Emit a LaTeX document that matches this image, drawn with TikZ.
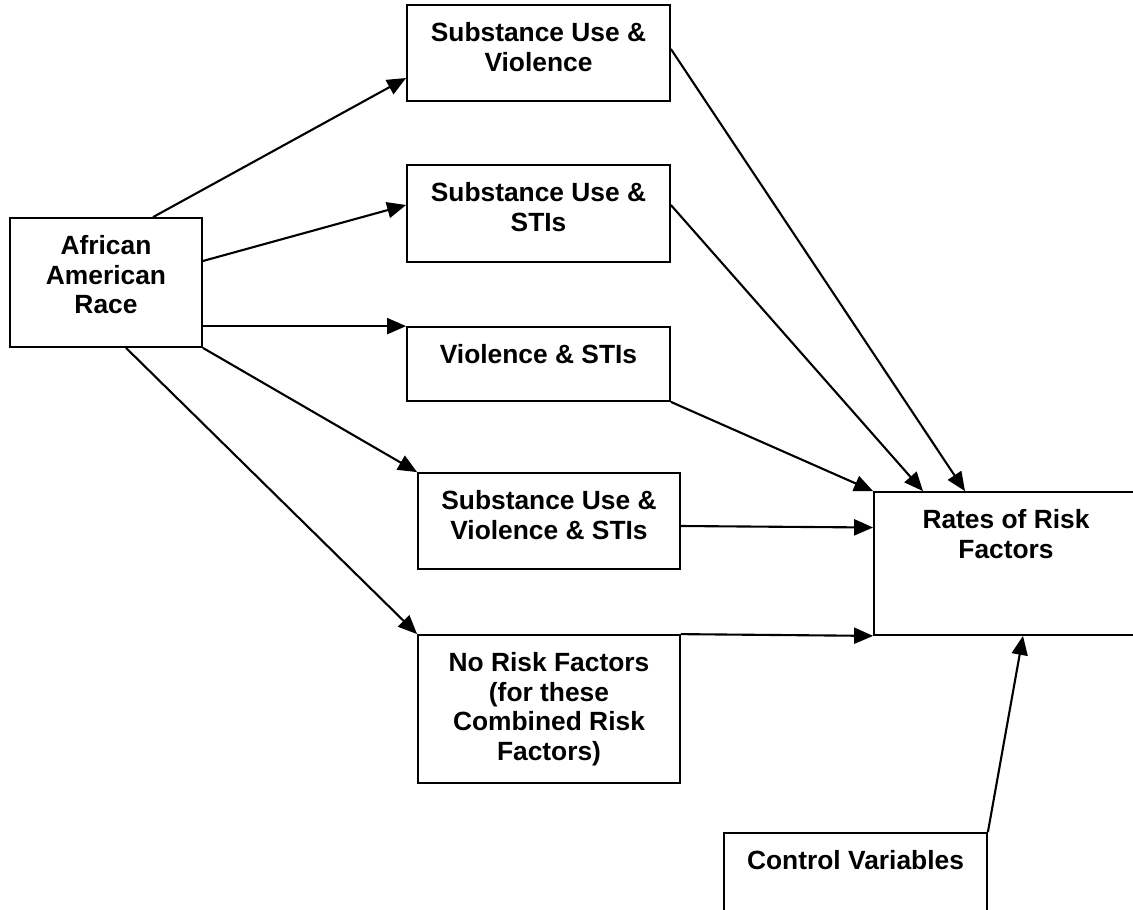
\documentclass[tikz,border=0pt]{standalone}
\usepackage{fontspec}
\setmainfont{Liberation Sans}
\usetikzlibrary{arrows.meta}
\begin{document}
\begin{tikzpicture}[
  box/.style={draw, line width=1pt, minimum width=5.26cm, inner sep=0pt},
  lbl/.style={anchor=north, align=center, inner sep=0pt, yshift=-10pt,
    font={\fontsize{15}{17}\selectfont\bfseries}},
  arr/.style={-{Triangle[length=0.38cm, width=0.32cm]}, line width=1.2pt}]
\useasboundingbox (0,0) rectangle (22.66,-18.18);
\clip (0,0) rectangle (22.66,-18.18);
% boxes
\node[box, minimum width=3.84cm, minimum height=2.58cm] (aa) at (2.12,-5.65) {};
\node[box, minimum height=1.92cm] (suv) at (10.77,-1.06) {};
\node[box, minimum height=1.94cm] (susti) at (10.77,-4.27) {};
\node[box, minimum height=1.48cm] (vs) at (10.77,-7.28) {};
\node[box, minimum width=5.24cm, minimum height=1.92cm] (suvs) at (10.98,-10.42) {};
\node[box, minimum width=5.24cm, minimum height=2.96cm] (nrf) at (10.98,-14.18) {};
\node[box, minimum width=5.28cm, minimum height=2.86cm] (rrf) at (20.12,-11.27) {};
\node[box, minimum height=1.64cm] (ctrl) at (17.11,-17.48) {};
% labels
\node[lbl] (aatxt) at (aa.north) {African\\American\\Race};
\node[lbl] (suvtxt) at (suv.north) {Substance Use \&\\Violence};
\node[lbl] (sustitxt) at (susti.north) {Substance Use \&\\STIs};
\node[lbl] (vstxt) at (vs.north) {Violence \& STIs};
\node[lbl] (suvstxt) at (suvs.north) {Substance Use \&\\Violence \& STIs};
\node[lbl] (nrftxt) at (nrf.north) {No Risk Factors\\(for these\\Combined Risk\\Factors)};
\node[lbl] (rrftxt) at (rrf.north) {Rates of Risk\\Factors};
\node[lbl] (ctrltxt) at (ctrl.north) {Control Variables};
% paths from race
\draw[arr] ([xshift=0.94cm]aa.north) -- ([yshift=-0.5cm]suv.west);
\draw[arr] ([yshift=0.43cm]aa.east) -- ([yshift=0.17cm]susti.west);
\draw[arr] (aa.east |- vs.north west) -- (vs.north west);
\draw[arr] (aa.south east) -- (suvs.north west);
\draw[arr] ([xshift=0.4cm]aa.south) -- (nrf.north west);
% paths to rates
\draw[arr] ([yshift=0.08cm]suv.east) -- ([xshift=-0.82cm]rrf.north);
\draw[arr] ([yshift=0.17cm]susti.east) -- ([xshift=-1.66cm]rrf.north);
\draw[arr] (vs.south east) -- (rrf.north west);
\draw[arr] ([yshift=-0.1cm]suvs.east) -- ([yshift=0.72cm]rrf.west);
\draw[arr] (nrf.north east) -- (rrf.south west);
\draw[arr] (ctrl.north east) -- ([xshift=0.34cm]rrf.south);
\end{tikzpicture}
\end{document}
